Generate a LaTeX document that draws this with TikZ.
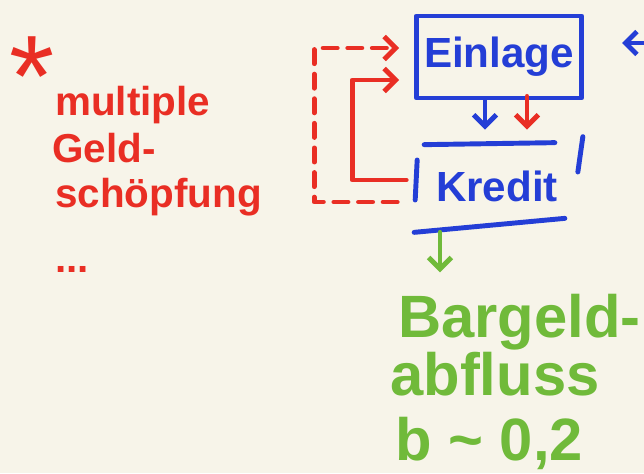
\documentclass[tikz,border=0pt]{standalone}
\usepackage{fontspec}
\setmainfont{Liberation Sans}
\usetikzlibrary{arrows.meta,calc}
\definecolor{papier}{RGB}{247,244,233}
\definecolor{rotstift}{RGB}{233,46,36}
\definecolor{blaustift}{RGB}{36,62,214}
\definecolor{gruenstift}{RGB}{112,186,58}
\tikzset{
  stift/.style={line width=2.8pt, line cap=round, line join=round},
  pfeil/.style={-{Straight Barb[length=6.5pt,width=13pt]}},
  notiz/.style={anchor=base west, inner sep=0pt, font=\bfseries\fontsize{23}{28}\selectfont},
  gruennotiz/.style={notiz, text=gruenstift, font=\bfseries\fontsize{34}{38}\selectfont},
  kasten/.style={inner sep=0pt, minimum width=3.3cm, minimum height=1.64cm,
    text=blaustift, font=\bfseries\fontsize{24}{28}\selectfont}
}

\begin{document}
\begin{tikzpicture}[x=0.02cm, y=-0.02cm]
  \fill[papier] (0,0) rectangle (644,473);
  \useasboundingbox (0,0) rectangle (644,473);
  \clip (0,0) rectangle (644,473);
  % linke Notiz
  \node[notiz, text=rotstift, font=\fontsize{66}{66}\selectfont] (stern) at (9,116) {*};
  \node[notiz, text=rotstift] (multi) at (55,115) {multiple};
  \node[notiz, text=rotstift] (geld) at (52,162) {Geld-};
  \node[notiz, text=rotstift] (schoepf) at (55,207) {schöpfung};
  \node[notiz, text=rotstift] (punkte) at (55,272) {...};
  % Kasten
  \node[kasten, draw=blaustift, stift] (einlage) at (499,57) {Einlage};
  \node[kasten] (kredit) at (497,186) {Kredit};
  \draw[stift, blaustift] ($(kredit.north west)+(10,0)$) -- ($(kredit.north east)+(-25,-2)$);
  \draw[stift, blaustift] ($(kredit.west)+(3,-26)$) -- ($(kredit.west)+(1,14)$);
  \draw[stift, blaustift] ($(kredit.north east)+(3,-8)$) -- ($(kredit.east)+(-2,-14)$);
  \draw[stift, blaustift] ($(kredit.south west)+(0,5)$) -- ($(kredit.south east)+(-15,-9)$);
  % Pfeile
  \draw[stift, blaustift, pfeil] ($(einlage.south)+(-14,0)$) -- ($(kredit.north)+(-12,-15)$);
  \draw[stift, rotstift, pfeil] ($(einlage.south)+(28,-4)$) -- ($(kredit.north)+(30,-15)$);
  \draw[stift, rotstift, pfeil] ($(kredit.west)+(-8,-6)$) -- ++(-54,0) |- ($(einlage.west)+(-15,23)$);
  \draw[stift, rotstift, pfeil, dashed, dash pattern=on 8pt off 6pt] ($(kredit.west)+(-17,16)$) -- ++(-83,0) |- ($(einlage.west)+(-15,-9)$);
  \coordinate (rand) at (652,43);
  \coordinate (zufluss) at (622,43);
  \draw[stift, blaustift, pfeil] (rand) -- (zufluss);
  % Bargeld
  \node[gruennotiz] (bargeld) at (398,337) {Bargeld-};
  \node[gruennotiz] (abfluss) at (390,395) {abfluss};
  \node[gruennotiz] (faktor) at (395,460) {b \textasciitilde{} 0,2};
  \draw[stift, gruenstift, pfeil] ($(kredit.south)+(-57,5)$) -- ++(0,40);
\end{tikzpicture}
\end{document}
